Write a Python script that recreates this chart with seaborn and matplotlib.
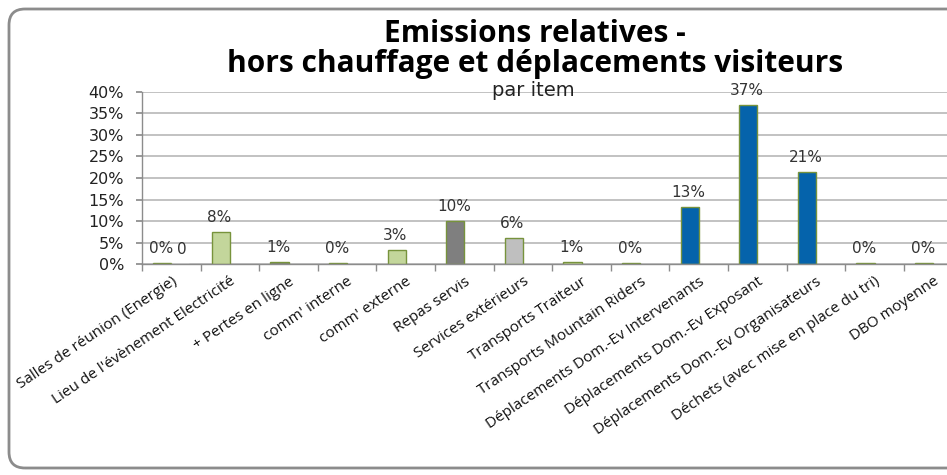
import numpy as np
import pandas as pd
import matplotlib
matplotlib.use("Agg")
import matplotlib.pyplot as plt
import seaborn as sns
from matplotlib.patches import FancyBboxPatch
from matplotlib.transforms import IdentityTransform

# ---- data ----
categories = [
    "Salles de réunion (Energie)",
    "Lieu de l'évènement Electricité",
    "+ Pertes en ligne",
    "comm' interne",
    "comm' externe",
    "Repas servis",
    "Services extérieurs",
    "Transports Traiteur",
    "Transports Mountain Riders",
    "Déplacements Dom.-Ev Intervenants",
    "Déplacements Dom.-Ev Exposant",
    "Déplacements Dom.-Ev Organisateurs",
    "Déchets (avec mise en place du tri)",
    "DBO moyenne",
]
values_pct = [0.3, 7.55, 0.6, 0.2, 3.3, 10.1, 6.0, 0.6, 0.3, 13.35, 36.9, 21.3, 0.3, 0.4]
series2 = [0.0] + [np.nan] * 13
yticks = [0, 5, 10, 15, 20, 25, 30, 35, 40]

GREEN = "#C3D69B"
DGREY = "#7F7F7F"
LGREY = "#BFBFBF"
BLUE = "#0563AB"
bar_colors = [GREEN, GREEN, DGREY, GREEN, GREEN, DGREY, LGREY, GREEN,
              BLUE, BLUE, BLUE, BLUE, GREEN, "#4F81BD"]
EDGE = "#77933C"

df = pd.DataFrame({
    "item": categories * 2,
    "value": values_pct + series2,
    "serie": ["s1"] * len(categories) + ["s2"] * len(categories),
})

sns.set_theme(style="white")
plt.rcParams["font.family"] = ["DejaVu Sans"]

fig = plt.figure(figsize=(9.47, 4.75), dpi=100)
W, H = 947, 475
ax_left = 142 / W
ax_right = 962.4 / W
ax_bottom = 1 - 264.3 / H
ax_top = 1 - 91.7 / H
ax = fig.add_axes([ax_left, ax_bottom, ax_right - ax_left, ax_top - ax_bottom])

# outer rounded border (pixel coordinates, right side runs off the image)
border = FancyBboxPatch((9, 7), W + 60, H - 16,
                        boxstyle="round,pad=0,rounding_size=16",
                        transform=IdentityTransform(), fill=False,
                        edgecolor="#8C8C8C", linewidth=2, clip_on=False)
fig.patches.append(border)

sns.barplot(data=df, x="item", y="value", hue="serie", dodge=True,
            width=0.62, legend=False, ax=ax, order=categories,
            hue_order=["s1", "s2"])

cont1 = ax.containers[0]
for patch, c in zip(cont1, bar_colors):
    patch.set_facecolor(c)
    patch.set_edgecolor(EDGE)
    patch.set_linewidth(1.0)

ax.set_ylim(0, 40)
ax.set_xlim(-0.5, len(categories) - 0.5)
ax.set_yticks(yticks)
ax.set_yticklabels([f"{t}%" for t in yticks], fontsize=11.5, color="#222222")
ax.yaxis.grid(True, color="#BDBDBD", linewidth=1.3)
ax.set_axisbelow(True)
ax.set_xlabel("")
ax.set_ylabel("")

for s in ["top", "right"]:
    ax.spines[s].set_visible(False)
for s in ["left", "bottom"]:
    ax.spines[s].set_color("#8C8C8C")
    ax.spines[s].set_linewidth(1.0)

# category labels
ax.set_xticks(range(len(categories)))
ax.set_xticklabels(categories, rotation=34, ha="right", rotation_mode="anchor",
                   fontsize=11, family=["Open Sans", "DejaVu Sans"], color="#111111")
ax.tick_params(axis="x", length=0, pad=7)
ax.tick_params(axis="y", length=4, color="#8C8C8C", left=True, pad=9)
# separator ticks
ax.set_xticks(np.arange(-0.5, len(categories), 1.0), minor=True)
ax.tick_params(axis="x", which="minor", length=5, color="#8C8C8C", bottom=True)

# data labels
for patch, v in zip(cont1, values_pct):
    ax.annotate(f"{v:.0f}%", (patch.get_x() + patch.get_width() / 2, patch.get_height()),
                xytext=(-1, 5), textcoords="offset points", ha="center", va="bottom",
                fontsize=11, color="#333333")
cont2 = ax.containers[1]
for patch, v in zip(cont2, series2):
    if not np.isnan(v):
        ax.annotate(f"{v:.0f}", (patch.get_x() + patch.get_width() / 2, 0),
                    xytext=(1, 5), textcoords="offset points", ha="center", va="bottom",
                    fontsize=11, color="#333333")

# title
fig.text(535 / W, 1 - 34 / H, "Emissions relatives -", ha="center", va="center",
         fontsize=21.5, fontweight="bold", family=["Open Sans", "DejaVu Sans"], color="#000000")
fig.text(535 / W, 1 - 64 / H, "hors chauffage et déplacements visiteurs", ha="center",
         va="center", fontsize=21.5, fontweight="bold", family=["Open Sans", "DejaVu Sans"],
         color="#000000")
fig.text(533 / W, 1 - 90 / H, "par item", ha="center", va="center", fontsize=14,
         color="#222222")

fig.savefig("out.png", dpi=100)
